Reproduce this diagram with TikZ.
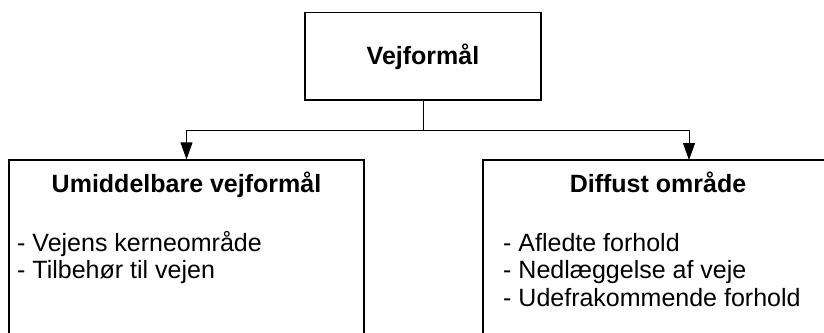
\documentclass[tikz,border=0pt]{standalone}
\usepackage{fontspec}
\setmainfont{Liberation Sans}
\usetikzlibrary{arrows.meta}

\tikzset{
  box/.style={draw=black, line width=1.3pt, fill=white, inner sep=0pt},
  title/.style={font=\fontsize{25}{30}\selectfont\bfseries, inner sep=0pt, anchor=base},
  item/.style={font=\fontsize{25}{30}\selectfont, inner sep=0pt, anchor=base west},
  link/.style={draw=black, line width=1pt},
  arr/.style={link, -{Triangle[length=17pt, width=12pt]}}
}

\begin{document}
\begin{tikzpicture}[x=1pt, y=-1pt]
  \useasboundingbox (0,0) rectangle (824,332);
  \clip (0,0) rectangle (824,332);

  % boxes
  \node[box, minimum width=236pt, minimum height=87.5pt] (top) at (423,56.3) {};
  \node[box, minimum width=355pt, minimum height=200pt] (left) at (186.5,260) {};
  \node[box, minimum width=350pt, minimum height=200pt] (right) at (658,260) {};

  % texts
  \node[title] (ttop) at (423,64) {Vejformål};
  \node[title] (tleft) at (186.5,192) {Umiddelbare vejformål};
  \node[title] (tright) at (658,192) {Diffust område};

  \node[item] (l1) at (17,251.5) {- Vejens kerneområde};
  \node[item] (l2) at (17,278.8) {- Tilbehør til vejen};

  \node[item] (r1) at (503,251.5) {- Afledte forhold};
  \node[item] (r2) at (503,278.8) {- Nedlæggelse af veje};
  \node[item] (r3) at (503,306.1) {- Udefrakommende forhold};

  % connectors
  \coordinate (split) at (423,130.7);
  \coordinate (rin) at (689,160);
  \draw[link] (top.south) -- (split);
  \draw[arr] (split) -| (left.north);
  \draw[arr] (split) -| (rin);
\end{tikzpicture}
\end{document}
